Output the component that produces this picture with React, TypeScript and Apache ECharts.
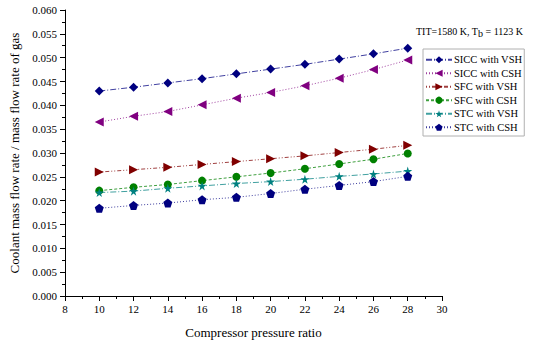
import React, { useEffect, useRef } from "react";
import * as echarts from "echarts";

const pressureRatio = [10, 12, 14, 16, 18, 20, 22, 24, 26, 28];
const siccVsh = [0.0430, 0.0438, 0.0447, 0.0456, 0.0466, 0.0476, 0.0486, 0.0497, 0.0508, 0.0520];
const siccCsh = [0.0365, 0.0377, 0.0387, 0.0401, 0.0415, 0.0427, 0.0441, 0.0457, 0.0475, 0.0495];
const sfcVsh = [0.0260, 0.0265, 0.0270, 0.0276, 0.0282, 0.0288, 0.0294, 0.0301, 0.0308, 0.0316];
const sfcCsh = [0.0221, 0.0228, 0.0234, 0.0242, 0.0250, 0.0258, 0.0267, 0.0277, 0.0287, 0.0299];
const stcVsh = [0.0217, 0.0220, 0.0226, 0.0231, 0.0236, 0.0240, 0.0245, 0.0251, 0.0256, 0.0262];
const stcCsh = [0.0184, 0.0190, 0.0195, 0.0202, 0.0207, 0.0215, 0.0224, 0.0232, 0.0240, 0.0251];

const seriesNames = [
  "SICC with VSH",
  "SICC with CSH",
  "SFC with VSH",
  "SFC with CSH",
  "STC with VSH",
  "STC with CSH",
];

const STAR = "path://M50,0 L61,35 L98,35 L68,57 L79,91 L50,70 L21,91 L32,57 L2,35 L39,35 Z";
const PENTAGON = "path://M50,0 L98,35 L79,91 L21,91 L2,35 Z";

const FONT = "'Liberation Serif', 'Times New Roman', serif";

export default function App() {
  const ref = useRef<HTMLDivElement>(null);
  useEffect(() => {
    if (!ref.current) return;
    const chart = echarts.init(ref.current, null, { renderer: "svg" });
    const mk = (
      name: string,
      values: number[],
      color: string,
      symbol: string,
      size: number,
      lineType: any,
      rotate = 0
    ) => ({
      name,
      type: "line",
      data: pressureRatio.map((x, i) => [x, values[i]]),
      symbol,
      symbolSize: size,
      symbolRotate: rotate,
      itemStyle: { color },
      lineStyle: { color, width: 1, type: lineType, opacity: 0.75 },
    });
    chart.setOption({
      animation: false,
      backgroundColor: "#ffffff",
      textStyle: { fontFamily: FONT },
      grid: { left: 61, right: 92, top: 10, bottom: 47 },
      xAxis: {
        type: "value",
        min: 8,
        max: 30,
        interval: 2,
        name: "Compressor pressure ratio",
        nameLocation: "middle",
        nameGap: 30,
        nameTextStyle: { fontFamily: FONT, fontSize: 13, color: "#000" },
        axisLine: { lineStyle: { color: "#000", width: 1 } },
        axisTick: { length: 5, lineStyle: { color: "#000" } },
        minorTick: { show: true, splitNumber: 2, length: 3, lineStyle: { color: "#000" } },
        axisLabel: { fontFamily: FONT, fontSize: 11, color: "#000", margin: 7 },
        splitLine: { show: false },
      },
      yAxis: {
        type: "value",
        min: 0,
        max: 0.06,
        interval: 0.005,
        name: "Coolant mass flow rate / mass flow rate of gas",
        nameLocation: "middle",
        nameGap: 44,
        nameTextStyle: { fontFamily: FONT, fontSize: 13, color: "#000" },
        axisLine: { show: true, lineStyle: { color: "#000", width: 1 } },
        axisTick: { show: true, length: 5, lineStyle: { color: "#000" } },
        minorTick: { show: true, splitNumber: 2, length: 3, lineStyle: { color: "#000" } },
        axisLabel: {
          fontFamily: FONT,
          fontSize: 11,
          color: "#000",
          margin: 8,
          formatter: (v: number) => v.toFixed(3),
        },
        splitLine: { show: false },
      },
      legend: {
        orient: "vertical",
        left: 423,
        top: 49,
        data: seriesNames,
        itemWidth: 26,
        itemHeight: 9,
        itemGap: 0,
        padding: [4, 2, 2, 2],
        borderColor: "#b0b0b0",
        borderWidth: 1,
        textStyle: { fontFamily: FONT, fontSize: 10.5, color: "#000", lineHeight: 13.5, padding: [0, 0, 0, -3] },
      },
      graphic: [
        {
          type: "text",
          left: 416,
          top: 26,
          style: {
            text: "TIT=1580 K, T{sub|b} = 1123 K",
            font: `10px ${FONT}`,
            fill: "#000",
            rich: {
              sub: { fontSize: 10, fontFamily: FONT, verticalAlign: "bottom", padding: [5, 0, 0, 0] },
            },
          },
        },
      ],
      series: [
        mk(seriesNames[0], siccVsh, "#000080", "diamond", 9, [6, 2, 1, 2]),
        mk(seriesNames[1], siccCsh, "#800080", "triangle", 9, [1, 2], 90),
        mk(seriesNames[2], sfcVsh, "#800000", "triangle", 9, [1, 2, 1, 2, 4, 2], -90),
        mk(seriesNames[3], sfcCsh, "#008000", "circle", 8, [3, 2]),
        mk(seriesNames[4], stcVsh, "#008080", STAR, 9, [6, 2, 1, 2]),
        mk(seriesNames[5], stcCsh, "#000080", PENTAGON, 9, [1, 2]),
      ],
    });
    return () => chart.dispose();
  }, []);
  return (
    <div
      ref={ref}
      style={{ position: "absolute", left: 0, top: 0, width: 534, height: 344 }}
    />
  );
}
